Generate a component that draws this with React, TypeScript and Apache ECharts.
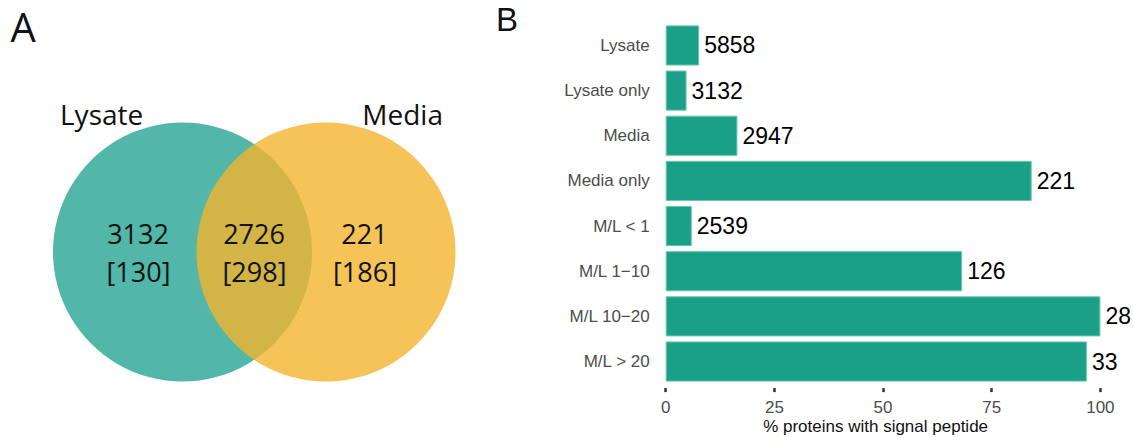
import React, { useEffect, useRef } from "react";
import * as echarts from "echarts";

// Panel B: share of proteins carrying a signal peptide, per protein group
const categories = [
  "Lysate",
  "Lysate only",
  "Media",
  "Media only",
  "M/L < 1",
  "M/L 1\u221210",
  "M/L 10\u221220",
  "M/L > 20",
];
const pctSignalPeptide = [7.7, 4.8, 16.5, 84.2, 6.0, 68.2, 100, 96.9];
const proteinCounts = [5858, 3132, 2947, 221, 2539, 126, 28, 33];
const xTicks = { min: 0, max: 100, interval: 25 };

// Panel A: Venn of identified proteins; bracketed numbers are signal-peptide proteins
const vennSets = ["Lysate", "Media"];
const vennRegionCounts = [3132, 2726, 221]; // lysate only, both, media only
const vennRegionSignal = [130, 298, 186];

const TEAL = "#1BA088";
const VENN_FONT = "'Open Sans', 'Noto Sans', sans-serif";
const PLOT_FONT = "'Liberation Sans', Arial, sans-serif";

export default function App() {
  const ref = useRef<HTMLDivElement>(null);

  useEffect(() => {
    if (!ref.current) return;
    const chart = echarts.init(ref.current, undefined, { renderer: "svg" });

    const cy = 252;
    const r = 129.5;
    const leftCx = 182.5;
    const rightCx = 326;
    const regionX = [138, 254, 364.5];

    const vennText: any[] = [];
    regionX.forEach((x, i) => {
      vennText.push({
        type: "text",
        x,
        y: 233,
        style: {
          text: String(vennRegionCounts[i]),
          font: `400 27px ${VENN_FONT}`,
          fill: "#111",
          align: "center",
          verticalAlign: "middle",
        },
      });
      vennText.push({
        type: "text",
        x: x + 0.5,
        y: 271,
        style: {
          text: `[${vennRegionSignal[i]}]`,
          font: `400 27px ${VENN_FONT}`,
          fill: "#111",
          align: "center",
          verticalAlign: "middle",
        },
      });
    });

    chart.setOption({
      animation: false,
      backgroundColor: "#fff",
      grid: {
        left: 665.7,
        right: 1133 - 1100.4,
        top: 22.9,
        bottom: 440 - 384.1,
        containLabel: false,
      },
      xAxis: {
        type: "value",
        min: xTicks.min,
        max: xTicks.max,
        interval: xTicks.interval,
        offset: 4,
        axisLine: { show: false },
        axisTick: { show: true, length: 4, lineStyle: { color: "#333", width: 2.5 } },
        splitLine: { show: false },
        axisLabel: { color: "#4d4d4d", fontSize: 17, fontFamily: PLOT_FONT, margin: 11 },
      },
      yAxis: {
        type: "category",
        data: categories,
        inverse: true,
        axisLine: { show: false },
        axisTick: { show: false },
        splitLine: { show: false },
        axisLabel: { color: "#4d4d4d", fontSize: 17, fontFamily: PLOT_FONT, margin: 16 },
      },
      series: [
        {
          type: "bar",
          data: pctSignalPeptide,
          barCategoryGap: "11%",
          itemStyle: { color: TEAL, borderColor: "#6cc5b4", borderWidth: 1 },
          label: {
            show: true,
            position: "right",
            distance: 5,
            fontSize: 23,
            fontFamily: PLOT_FONT,
            color: "#000",
            formatter: (p: any) => String(proteinCounts[p.dataIndex]),
          },
        },
      ],
      graphic: [
        {
          type: "circle",
          shape: { cx: leftCx, cy, r },
          style: { fill: "#52B7A8" },
        },
        {
          type: "circle",
          shape: { cx: rightCx, cy, r },
          style: { fill: "rgb(243,180,45)", opacity: 0.8 },
        },
        {
          type: "text",
          x: 60,
          y: 114,
          style: {
            text: vennSets[0],
            font: `400 28px ${VENN_FONT}`,
            fill: "#111",
            align: "left",
            verticalAlign: "middle",
          },
        },
        {
          type: "text",
          x: 443,
          y: 114,
          style: {
            text: vennSets[1],
            font: `400 28px ${VENN_FONT}`,
            fill: "#111",
            align: "right",
            verticalAlign: "middle",
          },
        },
        ...vennText,
        {
          type: "text",
          x: 10.5,
          y: 26,
          style: {
            text: "A",
            font: `400 40px ${VENN_FONT}`,
            fill: "#111",
            align: "left",
            verticalAlign: "middle",
          },
        },
        {
          type: "text",
          x: 496,
          y: 19.5,
          style: {
            text: "B",
            font: `400 33px ${PLOT_FONT}`,
            fill: "#111",
            align: "left",
            verticalAlign: "middle",
          },
        },
        {
          type: "text",
          x: 875.6,
          y: 426.7,
          style: {
            text: "% proteins with signal peptide",
            font: `400 17px ${PLOT_FONT}`,
            fill: "#111",
            align: "center",
            verticalAlign: "middle",
          },
        },
      ],
    });

    return () => chart.dispose();
  }, []);

  return (
    <div
      ref={ref}
      style={{ position: "absolute", left: 0, top: 0, width: 1133, height: 440 }}
    />
  );
}
